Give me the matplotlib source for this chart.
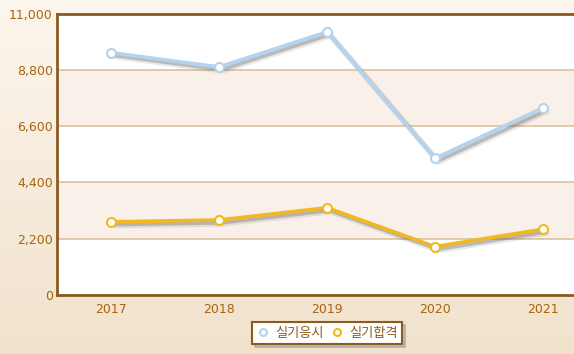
import numpy as np
import matplotlib.pyplot as plt
import matplotlib.patheffects as pe
from matplotlib.colors import LinearSegmentedColormap
from matplotlib.lines import Line2D

years = ['2017', '2018', '2019', '2020', '2021']
applicants = [9470, 8910, 10280, 5340, 7310]   # 실기응시
passed = [2860, 2930, 3410, 1890, 2570]        # 실기합격
yticks = [0, 2200, 4400, 6600, 8800, 11000]

brown = '#8b5a1e'
label_c = '#a8650c'
blue = '#b3d3ef'
yellow = '#f1b81f'

plt.rcParams['font.family'] = ['Noto Sans CJK KR', 'DejaVu Sans']

W, H = 574, 354
fig = plt.figure(figsize=(W / 100, H / 100), dpi=100)

# background gradient
bg = fig.add_axes([0, 0, 1, 1], zorder=-10)
cmap = LinearSegmentedColormap.from_list('bg', ['#f1e2cc', '#fcf6ee'])
bg.imshow(np.linspace(0, 1, 256).reshape(-1, 1), aspect='auto', cmap=cmap,
          origin='lower', extent=[0, 1, 0, 1])
bg.axis('off')

left, right, top, bottom = 57, 574, 13.5, 295
ax = fig.add_axes([left / W, 1 - bottom / H, (right - left) / W, (bottom - top) / H])
ax.set_facecolor('white')

x = np.arange(len(years))
ax.set_xlim(-0.5, -0.5 + (right - left) / 108)
ax.set_ylim(0, 11000)

for i in range(len(yticks) - 1):
    if i % 2 == 1:
        ax.axhspan(yticks[i], yticks[i + 1], color='#f9f1e9', zorder=0, lw=0)
for v in yticks[1:-1]:
    ax.axhline(v, color='#dcc29e', lw=1.2, zorder=1)

shadow = [pe.SimpleLineShadow(offset=(2.5, -2.5), shadow_color='#666666', alpha=0.15, linewidth=4.5),
          pe.SimpleLineShadow(offset=(2, -2), shadow_color='#666666', alpha=0.35),
          pe.Normal()]
for vals, c in [(applicants, blue), (passed, yellow)]:
    ax.plot(x, vals, color=c, lw=2.6, zorder=3, path_effects=shadow, solid_capstyle='round')
    ax.plot(x, vals, ls='none', marker='o', ms=6.5, mfc='white', mec=c, mew=1.5, zorder=4)

handles = [Line2D([], [], ls='none', marker='o', ms=5, mfc='white', mec=blue, mew=1.5),
           Line2D([], [], ls='none', marker='o', ms=5, mfc='white', mec=yellow, mew=1.5)]

ax.set_xticks(x)
ax.set_xticklabels(years)
ax.set_yticks(yticks)
ax.set_yticklabels(['{:,}'.format(v) for v in yticks])
ax.tick_params(axis='both', length=0, labelsize=9, labelcolor=label_c, pad=6,
               labelfontfamily='DejaVu Sans')
ax.tick_params(axis='y', pad=3)

for s in ['left', 'bottom', 'top']:
    ax.spines[s].set_color(brown)
    ax.spines[s].set_linewidth(2)
ax.spines['right'].set_visible(False)

leg = fig.legend(handles, ['실기응시', '실기합격'], loc='lower center',
                 bbox_to_anchor=(327 / W, 3 / H), ncol=2,
                 fontsize=9.5, frameon=True, fancybox=False,
                 shadow={'color': '#999999', 'alpha': 0.5},
                 handlelength=1.0, handletextpad=0.4, columnspacing=0.5,
                 borderpad=0.35)
leg.get_frame().set_edgecolor(brown)
leg.get_frame().set_linewidth(1.5)
for t in leg.get_texts():
    t.set_color('#8b5a1e')

fig.savefig('out.png', dpi=100)
